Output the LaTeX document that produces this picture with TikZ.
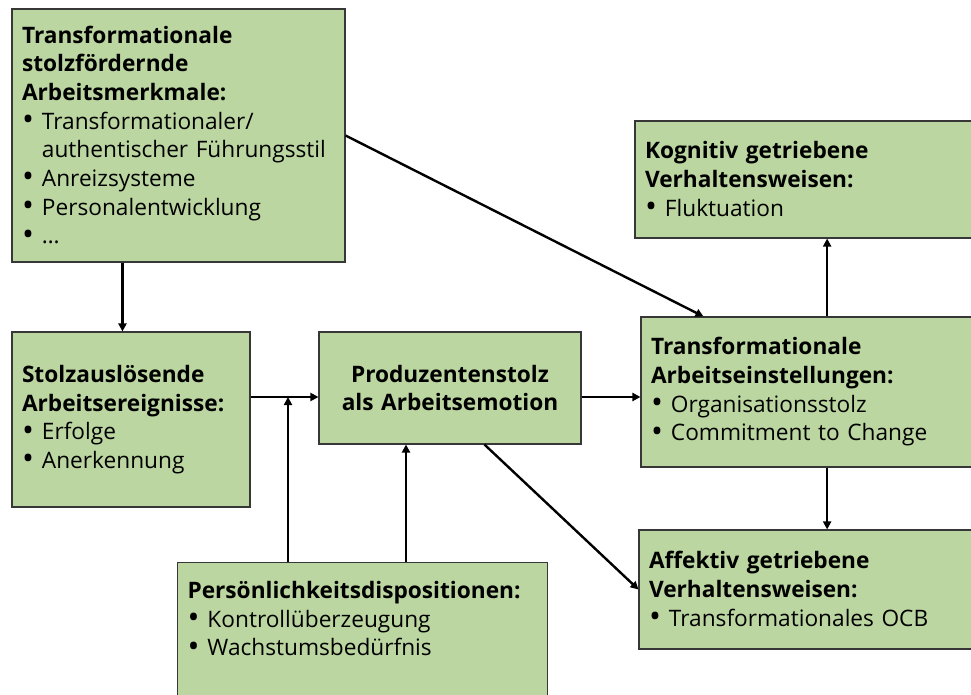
\documentclass[tikz,border=0pt]{standalone}
\usepackage{fontspec}
\usepackage{graphicx}
\setmainfont{Open Sans}
\usetikzlibrary{positioning,arrows.meta}
\definecolor{boxgreen}{RGB}{187,214,160}
\definecolor{boxline}{RGB}{55,55,55}
\newcommand{\bul}{\makebox[0.88em][l]{\raisebox{-0.06em}{\scalebox{1.4}{\textbullet}}}}
\newcommand{\bulind}{\hspace*{0.88em}}

\begin{document}
\begin{tikzpicture}[x=0.75pt,y=-0.75pt,
  box/.style={draw=boxline,line width=0.8pt,fill=boxgreen,inner xsep=7.5pt,inner ysep=0pt,
    align=left,font=\fontsize{17}{21.5}\selectfont},
  conn/.style={line width=1.8pt,-{Triangle[length=6pt,width=6pt]}}]
\useasboundingbox (0,0) rectangle (971,695);

\node[box,minimum width=249.75pt,text width=234.75pt,minimum height=189.75pt] (merkmale) at (178.5,135.5)
  {\textbf{Transformationale}\\ \textbf{stolzfördernde}\\ \textbf{Arbeitsmerkmale:}\\
   \bul Transformationaler/\\ \bulind authentischer Führungsstil\\ \bul Anreizsysteme\\
   \bul Personalentwicklung\\ \bul \ldots};
\node[box,minimum width=178.5pt,text width=163.5pt,minimum height=131.25pt] (ereignisse) at (131,419.5)
  {\textbf{Stolzauslösende}\\ \textbf{Arbeitsereignisse:}\\ \bul Erfolge\\ \bul Anerkennung};
\node[box,align=center,minimum width=196.5pt,text width=181.5pt,minimum height=84pt] (stolz) at (450,388)
  {\textbf{Produzentenstolz}\\ \textbf{als Arbeitsemotion}};
\node[box,minimum width=258pt,text width=243pt,minimum height=112.5pt] (einstellung) at (813,392)
  {\textbf{Transformationale}\\ \textbf{Arbeitseinstellungen:}\\ \bul Organisationsstolz\\ \bul Commitment to Change};
\node[box,minimum width=262.5pt,text width=247.5pt,minimum height=87.75pt] (kognitiv) at (810,179.5)
  {\textbf{Kognitiv getriebene}\\ \textbf{Verhaltensweisen:}\\ \bul Fluktuation};
\node[box,minimum width=259.5pt,text width=244.5pt,minimum height=89.25pt] (affektiv) at (812,589.5)
  {\textbf{Affektiv getriebene}\\ \textbf{Verhaltensweisen:}\\ \bul Transformationales OCB};
\node[box,anchor=north west,text width=262.5pt,inner ysep=14pt] (disposition) at (177,562)
  {\textbf{Persönlichkeitsdispositionen:}\\ \bul Kontrollüberzeugung\\ \bul Wachstumsbedürfnis\\[30pt]\mbox{}};

% Verbindungen
\coordinate (mitte) at ([yshift=-6.75pt]stolz.west);
\coordinate (d1) at ([xshift=83.25pt]disposition.north west);
\coordinate (d2) at ([xshift=171.75pt]disposition.north west);
\coordinate (e1) at ([xshift=140pt]einstellung.north west);
\coordinate (e2) at ([xshift=140pt]einstellung.south west);
\draw[conn] ([xshift=83.25pt]merkmale.south west) -- ([xshift=83.25pt]ereignisse.north west);
\draw[conn] (merkmale.east) -- ([xshift=47.25pt]einstellung.north west);
\draw[conn] (ereignisse.east |- mitte) -- (mitte);
\draw[conn] (d1) -- (d1 |- mitte);
\draw[conn] (d2) -- (d2 |- stolz.south);
\draw[conn] (stolz.east |- mitte) -- (einstellung.west |- mitte);
\draw[conn] ([xshift=124.5pt]stolz.south west) -- (affektiv.west);
\draw[conn] (e1) -- (e1 |- kognitiv.south);
\draw[conn] (e2) -- (e2 |- affektiv.north);
\end{tikzpicture}
\end{document}
